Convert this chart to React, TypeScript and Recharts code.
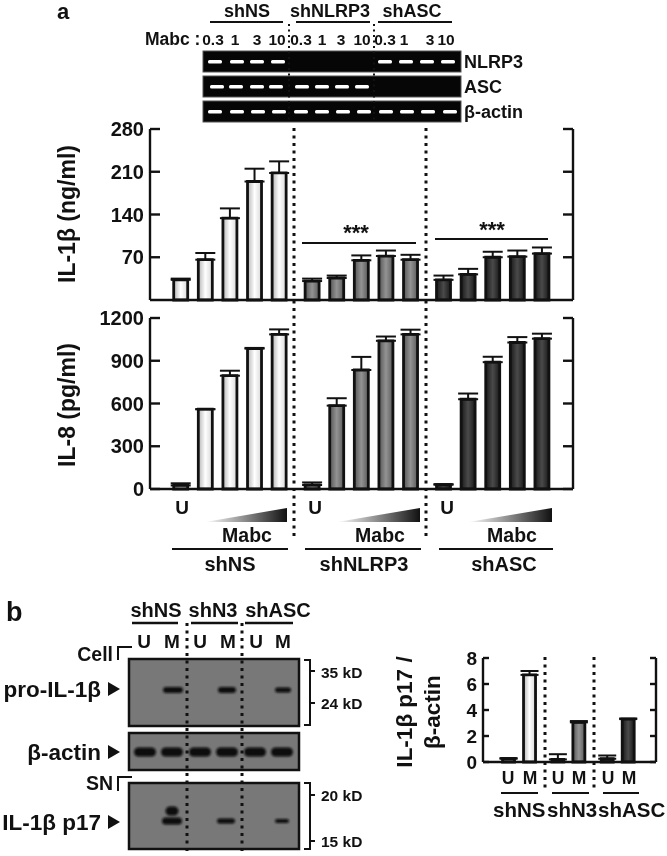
import { BarChart, Bar, Cell, ErrorBar, XAxis, YAxis } from 'recharts'

const FONT = '"Liberation Sans", Arial, sans-serif'

// panel a values, 5 bars per knockdown group
const groupFills = ['url(#barWhite)', 'url(#barGray)', 'url(#barDark)']
const il1bValues = [
  [33, 66, 134, 194, 208],
  [31, 36, 65, 72, 66],
  [33, 42, 70, 71, 76]
]
const il1bErrors = [
  [2, 11, 16, 21, 19],
  [4, 4, 8, 9, 8],
  [7, 9, 9, 10, 10]
]
const il8Values = [
  [25, 560, 795, 985, 1085],
  [28, 585, 835, 1040, 1085],
  [30, 630, 890, 1028, 1055]
]
const il8Errors = [
  [15, 0, 35, 5, 35],
  [18, 52, 92, 30, 33],
  [4, 40, 38, 38, 35]
]
const il1bTicks = [70, 140, 210, 280]
const il8Ticks = [0, 300, 600, 900, 1200]

// panel b quantification, U and M per group
const ratioValues = [
  [0.25, 6.7],
  [0.2, 3.05],
  [0.25, 3.3]
]
const ratioErrors = [
  [0.05, 0.3],
  [0.4, 0.1],
  [0.25, 0.05]
]
const ratioTicks = [0, 2, 4, 6, 8]

const GROUP_GAP = 0.34

const buildRows = (values: number[][], errors: number[][], gap: number) => {
  const rows: { pos: number; value: number; err: number[]; fill: string }[] = []
  values.forEach((group, g) => {
    group.forEach((value, i) => {
      rows.push({
        pos: rows.length + g * gap,
        value,
        err: [0, errors[g][i]],
        fill: groupFills[g]
      })
    })
  })
  return rows
}

const il1bRows = buildRows(il1bValues, il1bErrors, GROUP_GAP)
const il8Rows = buildRows(il8Values, il8Errors, GROUP_GAP)
const ratioRows = buildRows(ratioValues, ratioErrors, 0.35)

interface PanelProps {
  rows: { pos: number; value: number; err: number[]; fill: string }[]
  ticks: number[]
  yMax: number
  xDomain: number[]
  left: number
  right: number
  top: number
  bottom: number
  barSize: number
  capWidth: number
  tickLen: number
  fontSize: number
}

const BarPanel = ({ rows, ticks, yMax, xDomain, left, right, top, bottom, barSize, capWidth, tickLen, fontSize }: PanelProps) => {
  const axisLine = { stroke: '#111', strokeWidth: 2.4 }

  // ticks point into the plot on both sides, so they are drawn with the label
  const sideTick = ({ y, payload }: any) => (
    <g>
      <line x1={left} x2={left + tickLen} y1={y} y2={y} stroke='#111' strokeWidth={2.4} />
      <line x1={right - tickLen} x2={right} y1={y} y2={y} stroke='#111' strokeWidth={2.4} />
      <text x={left - 6} y={y + fontSize * 0.36} textAnchor='end' fontSize={fontSize} fontWeight={700} fill='#111' fontFamily={FONT}>
        {payload.value}
      </text>
    </g>
  )

  return (
    <div style={{ position: 'absolute', left: 0, top: 0 }}>
      <BarChart
        width={right + 11}
        height={bottom + 11}
        data={rows}
        margin={{ top, right: 10, bottom: 10, left: 0 }}
      >
        <XAxis
          dataKey='pos'
          type='number'
          domain={xDomain}
          allowDataOverflow
          tick={false}
          tickLine={false}
          height={1}
          axisLine={axisLine}
        />
        <YAxis
          yAxisId='left'
          width={left}
          domain={[0, yMax]}
          ticks={ticks}
          interval={0}
          tickLine={false}
          axisLine={axisLine}
          tick={sideTick}
        />
        <YAxis
          yAxisId='right'
          orientation='right'
          width={1}
          domain={[0, yMax]}
          ticks={ticks}
          tickLine={false}
          tick={false}
          axisLine={axisLine}
        />
        <Bar
          yAxisId='left'
          dataKey='value'
          barSize={barSize}
          stroke='#111'
          strokeWidth={2.8}
          isAnimationActive={false}
        >
          {rows.map((row, i) => (
            <Cell key={i} fill={row.fill} />
          ))}
          <ErrorBar dataKey='err' width={capWidth} stroke='#111' strokeWidth={2} isAnimationActive={false} />
        </Bar>
      </BarChart>
    </div>
  )
}

// gel and blot decorations around the charts
const gelRows = [
  { y: 51, label: 'NLRP3', bands: [215, 237, 257, 278, 385, 406, 427, 448] },
  { y: 76, label: 'ASC', bands: [217, 236, 257, 276, 302, 322, 342, 362] },
  { y: 101, label: 'β-actin', bands: [215, 237, 258, 279, 301, 322, 343, 364, 386, 407, 428, 450] }
]
const doseLabels = [
  ['0.3', 213], ['1', 235], ['3', 257], ['10', 277],
  ['0.3', 301], ['1', 322], ['3', 341], ['10', 362],
  ['0.3', 385], ['1', 404], ['3', 430], ['10', 446]
] as const
const topHeads = [
  ['shNS', 247, 210, 283],
  ['shNLRP3', 330, 296, 370],
  ['shASC', 412, 378, 452]
] as const
const footGroups = [
  ['shNS', 230, 182, 247, 172, 288, 205, 287],
  ['shNLRP3', 364, 315, 380, 305, 421, 337, 420],
  ['shASC', 504, 447, 512, 439, 553, 468, 552]
] as const
const blotHeads = [
  ['shNS', 156, 132, 178],
  ['shN3', 213, 191, 238],
  ['shASC', 278, 245, 293]
] as const
const blotLanes = [['U', 144], ['M', 172], ['U', 200], ['M', 228], ['U', 256], ['M', 283]] as const
const blots = [
  { y: 659, h: 67, bands: [[173, 690, 20, 6], [227, 690, 18, 6], [283, 690, 16, 5]] },
  { y: 733, h: 37, bands: [[145, 752, 22, 9], [172, 752, 22, 9], [200, 752, 22, 9], [227, 752, 22, 9], [255, 752, 22, 9], [282, 752, 22, 9]] },
  { y: 783, h: 66, bands: [[172, 821, 20, 7], [172, 811, 13, 9], [226, 821, 18, 5], [282, 821, 14, 4]] }
]
const blotNames = [
  ['pro-IL-1β', 689],
  ['β-actin', 752],
  ['IL-1β p17', 822]
] as const
const sizeMarks = [['35 kD', 672], ['24 kD', 703], ['20 kD', 795], ['15 kD', 841]] as const
const ratioLanes = [['U', 508], ['M', 530], ['U', 558], ['M', 579], ['U', 608], ['M', 629]] as const
const ratioFoot = [
  ['shNS', 493, 501, 538],
  ['shN3', 547, 552, 589],
  ['shASC', 598, 603, 639]
] as const
const dotted = [
  [289, 24, 123, 2],
  [374, 24, 123, 2],
  [294, 128, 540, 3],
  [426, 128, 540, 3],
  [187, 623, 853, 3],
  [242, 623, 853, 3],
  [545, 657, 790, 3],
  [594, 657, 790, 3]
]
const sigBars = [
  [356, 240, 302, 416, 243],
  [492, 237, 435, 548, 239]
]

const txt = (size: number) => ({ fontSize: size, fontWeight: 700, fill: '#111', fontFamily: FONT })

const Annotations = () => (
  <svg width={667} height={856} style={{ position: 'absolute', left: 0, top: 0 }}>
    <defs>
      <linearGradient id='barWhite' x1='0' x2='1' y1='0' y2='0'>
        <stop offset='0' stopColor='#b5b5b5' />
        <stop offset='0.5' stopColor='#ffffff' />
        <stop offset='1' stopColor='#d8d8d8' />
      </linearGradient>
      <linearGradient id='barGray' x1='0' x2='1' y1='0' y2='0'>
        <stop offset='0' stopColor='#555555' />
        <stop offset='0.5' stopColor='#939393' />
        <stop offset='1' stopColor='#5c5c5c' />
      </linearGradient>
      <linearGradient id='barDark' x1='0' x2='1' y1='0' y2='0'>
        <stop offset='0' stopColor='#1a1a1a' />
        <stop offset='0.5' stopColor='#4a4a4a' />
        <stop offset='1' stopColor='#1a1a1a' />
      </linearGradient>
      <linearGradient id='ramp' x1='0' x2='1' y1='0' y2='0'>
        <stop offset='0' stopColor='#ffffff' />
        <stop offset='1' stopColor='#111111' />
      </linearGradient>
      <filter id='soft' x='-30%' y='-60%' width='160%' height='220%'>
        <feGaussianBlur stdDeviation='1.1' />
      </filter>
      <filter id='softLight' x='-30%' y='-100%' width='160%' height='300%'>
        <feGaussianBlur stdDeviation='0.6' />
      </filter>
    </defs>

    <text x={57} y={19} {...txt(22)}>a</text>
    <text x={6} y={621} {...txt(27)}>b</text>

    {topHeads.map(([name, cx, x1, x2]) => (
      <g key={name}>
        <text x={cx} y={17} textAnchor='middle' {...txt(18)}>{name}</text>
        <line x1={x1} x2={x2} y1={22} y2={22} stroke='#111' strokeWidth={2} />
      </g>
    ))}
    <text x={145} y={45} {...txt(17.5)}>Mabc :</text>
    {doseLabels.map(([label, cx], i) => (
      <text key={i} x={cx} y={45} textAnchor='middle' {...txt(15.5)}>{label}</text>
    ))}

    {gelRows.map(row => (
      <g key={row.label}>
        <rect x={203} y={row.y} width={258} height={21} fill='#060606' stroke='#555' strokeWidth={1} />
        {row.bands.map(cx => (
          <rect key={cx} x={cx - 7} y={row.y + 9} width={14} height={3.5} rx={1.5} fill='#ffffff' filter='url(#softLight)' />
        ))}
        <text x={464} y={row.y + 17} {...txt(18)}>{row.label}</text>
      </g>
    ))}

    <text transform='translate(75,214) rotate(-90)' textAnchor='middle' {...txt(23)}>IL-1β (ng/ml)</text>
    <text transform='translate(75,405) rotate(-90)' textAnchor='middle' {...txt(23)}>IL-8 (pg/ml)</text>

    {sigBars.map(([cx, sy, x1, x2, y]) => (
      <g key={cx}>
        <text x={cx} y={sy} textAnchor='middle' {...txt(22)}>***</text>
        <line x1={x1} x2={x2} y1={y} y2={y} stroke='#111' strokeWidth={2} />
      </g>
    ))}

    {footGroups.map(([name, nameX, uX, mabcX, x1, x2, rampA, rampB]) => (
      <g key={name}>
        <text x={uX} y={514} textAnchor='middle' {...txt(19)}>U</text>
        <polygon points={`${rampA},522 ${rampB},508 ${rampB},522`} fill='url(#ramp)' />
        <text x={mabcX} y={542} textAnchor='middle' {...txt(19.5)}>Mabc</text>
        <line x1={x1} x2={x2} y1={549} y2={549} stroke='#111' strokeWidth={2} />
        <text x={nameX} y={571} textAnchor='middle' {...txt(20)}>{name}</text>
      </g>
    ))}

    {blotHeads.map(([name, cx, x1, x2]) => (
      <g key={name}>
        <text x={cx} y={617} textAnchor='middle' {...txt(20)}>{name}</text>
        <line x1={x1} x2={x2} y1={623} y2={623} stroke='#111' strokeWidth={2.5} />
      </g>
    ))}
    {blotLanes.map(([label, cx], i) => (
      <text key={i} x={cx} y={648} textAnchor='middle' {...txt(19)}>{label}</text>
    ))}

    {blots.map(blot => (
      <g key={blot.y}>
        <rect x={129} y={blot.y} width={170} height={blot.h} fill='#787878' stroke='#111' strokeWidth={2.5} />
        {blot.bands.map(([cx, cy, w, h], i) => (
          <rect key={i} x={cx - w / 2} y={cy - h / 2} width={w} height={h} rx={h / 2} fill='#0c0c0c' filter='url(#soft)' />
        ))}
      </g>
    ))}

    {blotNames.map(([name, y]) => (
      <g key={name}>
        <text x={101} y={y + 8} textAnchor='end' {...txt(22.5)}>{name}</text>
        <polygon points={`${108},${y - 7} ${108},${y + 7} ${120},${y}`} fill='#111' />
      </g>
    ))}
    <text x={113} y={661} textAnchor='end' {...txt(19.5)}>Cell</text>
    <path d='M118 660 V647 H132' fill='none' stroke='#111' strokeWidth={2} />
    <text x={113} y={790} textAnchor='end' {...txt(19.5)}>SN</text>
    <path d='M118 791 V777 H132' fill='none' stroke='#111' strokeWidth={2} />

    <path d='M304 660 H310 V725 H304 M310 671 H315 M310 703 H315' fill='none' stroke='#111' strokeWidth={2} />
    <path d='M304 783 H310 V849 H304 M310 795 H315 M310 841 H315' fill='none' stroke='#111' strokeWidth={2} />
    {sizeMarks.map(([label, y]) => (
      <text key={label} x={321} y={y + 6} {...txt(15.5)}>{label}</text>
    ))}

    <text transform='translate(412,712) rotate(-90)' textAnchor='middle' {...txt(22.5)}>IL-1β p17 /</text>
    <text transform='translate(440,712) rotate(-90)' textAnchor='middle' {...txt(22.5)}>β-actin</text>
    {ratioLanes.map(([label, cx], i) => (
      <text key={i} x={cx} y={784} textAnchor='middle' {...txt(17.5)}>{label}</text>
    ))}
    {ratioFoot.map(([name, x, x1, x2]) => (
      <g key={name}>
        <line x1={x1} x2={x2} y1={793} y2={793} stroke='#111' strokeWidth={2} />
        <text x={x} y={817} {...txt(20.5)}>{name}</text>
      </g>
    ))}

    {dotted.map(([x, y1, y2, w], i) => (
      <line key={i} x1={x} x2={x} y1={y1} y2={y2} stroke='#111' strokeWidth={w} strokeDasharray={`${w} ${w + 1.5}`} />
    ))}
  </svg>
)

export default function App() {
  return (
    <div style={{ position: 'absolute', left: 0, top: 0, width: 667, height: 856, background: '#fff', overflow: 'hidden', filter: 'blur(0.35px)' }}>
      <Annotations />
      <BarPanel
        rows={il1bRows}
        ticks={il1bTicks}
        yMax={280}
        xDomain={[-1.26, 15.93]}
        left={150}
        right={573}
        top={129}
        bottom={300}
        barSize={14}
        capWidth={10}
        tickLen={10}
        fontSize={20}
      />
      <BarPanel
        rows={il8Rows}
        ticks={il8Ticks}
        yMax={1200}
        xDomain={[-1.26, 15.93]}
        left={150}
        right={573}
        top={318}
        bottom={489}
        barSize={14}
        capWidth={10}
        tickLen={10}
        fontSize={20}
      />
      <BarPanel
        rows={ratioRows}
        ticks={ratioTicks}
        yMax={8}
        xDomain={[-1.24, 7.0]}
        left={483}
        right={656}
        top={658}
        bottom={762}
        barSize={12}
        capWidth={9}
        tickLen={6}
        fontSize={19}
      />
    </div>
  )
}
